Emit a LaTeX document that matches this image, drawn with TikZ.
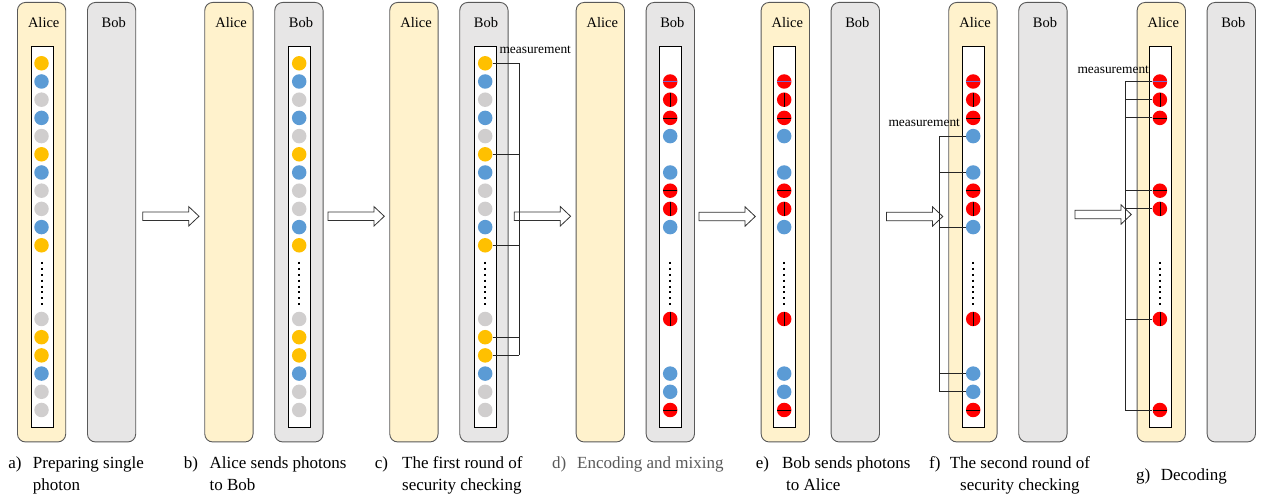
\documentclass[tikz,border=0pt]{standalone}
\usepackage{fontspec}
\setmainfont{Liberation Serif}
\definecolor{alicebg}{HTML}{FFF2CC}
\definecolor{bobbg}{HTML}{E7E6E6}
\definecolor{boxline}{HTML}{595959}
\definecolor{yel}{HTML}{FFC000}
\definecolor{blu}{HTML}{5B9BD5}
\definecolor{gry}{HTML}{D0CECE}
\definecolor{rd}{HTML}{FF0000}
\definecolor{faint}{HTML}{7A6AD0}
\definecolor{capgray}{HTML}{595959}
\tikzset{
  party/.style={draw=boxline, line width=0.9pt, rounded corners=8pt, minimum width=48.3pt, minimum height=439.5pt, inner sep=0pt, anchor=north west},
  alicebox/.style={party, fill=alicebg},
  bobbox/.style={party, fill=bobbg},
  lbl/.style={anchor=base, inner sep=0pt, font=\fontsize{14.5}{16}\selectfont},
  strip/.style={draw=black, fill=white, line width=0.8pt, minimum width=21.8pt, minimum height=381.5pt, inner sep=0pt, anchor=north west},
  ph/.style={circle, inner sep=0pt, minimum size=14.5pt},
  mk/.style={black, line width=0.6pt, shorten <=0.6pt, shorten >=0.6pt},
  faintmk/.style={faint, line width=0.5pt, shorten <=0.6pt, shorten >=0.6pt},
  dotline/.style={black, line width=2pt, dash pattern=on 2pt off 3.9pt},
  harr/.style={draw=black!80, fill=white, line width=0.8pt},
  br/.style={black!85, line width=0.8pt},
  meas/.style={anchor=west, inner sep=0pt, font=\fontsize{13.4}{15}\selectfont},
  captxt/.style={anchor=base west, inner sep=0pt, font=\fontsize{17}{20}\selectfont},
}
\newcommand\patA[2]{%
  \foreach \k/\y/\c in {0/63.3/yel,1/81.5/blu,2/99.7/gry,3/117.9/blu,4/136.1/gry,5/154.3/yel,6/172.5/blu,7/190.7/gry,8/208.9/gry,9/227.1/blu,10/245.3/yel,b0/319/gry,b1/337.2/yel,b2/355.4/yel,b3/373.6/blu,b4/391.8/gry,b5/410/gry}
    {\node[ph, fill=\c] (#1-\k) at (#2,\y) {};}
  \draw[dotline] (#2,262) -- (#2,305);
}
\newcommand\patR[2]{%
  \foreach \k/\y/\c in {1/81.5/rd,2/99.7/rd,3/117.9/rd,4/136.1/blu,6/172.5/blu,7/190.7/rd,8/208.9/rd,9/227.1/blu,b0/319/rd,b3/373.6/blu,b4/391.8/blu,b5/410/rd}
    {\node[ph, fill=\c] (#1-\k) at (#2,\y) {};}
  \draw[faintmk] (#1-1.west) -- (#1-1.east);
  \draw[mk] (#1-2.north) -- (#1-2.south);
  \draw[mk] (#1-3.west) -- (#1-3.east);
  \draw[mk] (#1-7.west) -- (#1-7.east);
  \draw[mk] (#1-8.north) -- (#1-8.south);
  \draw[mk] (#1-b0.north) -- (#1-b0.south);
  \draw[mk] (#1-b5.west) -- (#1-b5.east);
  \draw[dotline] (#2,262) -- (#2,305);
}
\newcommand\patG[2]{%
  \foreach \k/\y in {1/81.5,2/99.7,3/117.9,7/190.7,8/208.9,b0/319,b5/410}
    {\node[ph, fill=rd] (#1-\k) at (#2,\y) {};}
  \draw[faintmk] (#1-1.west) -- (#1-1.east);
  \draw[mk] (#1-2.north) -- (#1-2.south);
  \draw[mk] (#1-3.west) -- (#1-3.east);
  \draw[mk] (#1-7.west) -- (#1-7.east);
  \draw[mk] (#1-8.north) -- (#1-8.south);
  \draw[mk] (#1-b0.north) -- (#1-b0.south);
  \draw[mk] (#1-b5.west) -- (#1-b5.east);
  \draw[dotline] (#2,262) -- (#2,305);
}
\newcommand\harrow[2]{%
  \draw[harr] (#1,#2-4.2) -- (#1+46,#2-4.2) -- (#1+46,#2-9.7) -- (#1+56.3,#2) -- (#1+46,#2+9.7) -- (#1+46,#2+4.2) -- (#1,#2+4.2) -- cycle;
}
\begin{document}
\begin{tikzpicture}[x=1pt, y=-1pt]
\useasboundingbox (0,0) rectangle (1270,502);
% ---------- party boxes ----------
\foreach \p/\ax in {a/17, b/204.3, c/389.3, d/575.7, e/760.7, f/948.3, g/1136.7}{
  \node[alicebox] (\p-alice) at (\ax,2) {};
  \node[bobbox] (\p-bob) at (\ax+70,2) {};
  \node[lbl] (\p-alicelbl) at (\ax+26.7,27.7) {Alice};
  \node[lbl] (\p-boblbl) at (\ax+96.7,27.7) {Bob};
}
% ---------- strips ----------
\node[strip] (a-strip) at (30.7,46) {};
\node[strip] (b-strip) at (288.3,46) {};
\node[strip] (c-strip) at (474.3,46) {};
\node[strip] (d-strip) at (659.3,46) {};
\node[strip] (e-strip) at (773.3,46) {};
\node[strip] (f-strip) at (962.3,46) {};
\node[strip] (g-strip) at (1149,46) {};
% ---------- arrows ----------
\harrow{142.7}{216.3}
\harrow{328}{216.3}
\harrow{514.3}{216.3}
\harrow{699}{216.5}
\harrow{886.5}{216.5}
\harrow{1075}{214.5}
% ---------- photons ----------
\patA{pa}{41.5}
\patA{pb}{299.2}
\patA{pc}{485.2}
\patR{pd}{670.2}
\patR{pe}{784.2}
\patR{pf}{973.2}
\patG{pg}{1159.9}
% ---------- measurement brackets ----------
\coordinate (cbar) at (519,0);
\foreach \k in {0,5,10,b1,b2}{\draw[br] (pc-\k.east) -- (pc-\k.east -| cbar);}
\draw[br] (pc-0.east -| cbar) -- (pc-b2.east -| cbar);
\node[meas] (c-meas) at (499.3,49.3) {measurement};
\coordinate (fbar) at (939.3,0);
\foreach \k in {4,6,9,b3,b4}{\draw[br] (pf-\k.west) -- (pf-\k.west -| fbar);}
\draw[br] (pf-4.west -| fbar) -- (pf-b4.west -| fbar);
\node[meas] (f-meas) at (888.3,122.3) {measurement};
\coordinate (gbar) at (1125,0);
\foreach \k in {1,2,3,7,8,b0,b5}{\draw[br] (pg-\k.west) -- (pg-\k.west -| gbar);}
\draw[br] (pg-1.west -| gbar) -- (pg-b5.west -| gbar);
\node[meas] (g-meas) at (1077.3,69.3) {measurement};
% ---------- captions ----------
\node[captxt] (ca-l) at (8.2,469) {a)};
\node[captxt] (ca-1) at (32.7,469) {Preparing single};
\node[captxt] (ca-2) at (32.7,491) {photon};
\node[captxt] (cb-l) at (183.7,469) {b)};
\node[captxt] (cb-1) at (209.4,469) {Alice sends photons};
\node[captxt] (cb-2) at (209.4,491) {to Bob};
\node[captxt] (cc-l) at (374.7,469) {c)};
\node[captxt] (cc-1) at (402,469) {The first round of};
\node[captxt] (cc-2) at (402,491) {security checking};
\node[captxt, text=capgray] (cd-l) at (551.8,469) {d)};
\node[captxt, text=capgray] (cd-1) at (577,469) {Encoding and mixing};
\node[captxt] (ce-l) at (755.7,469) {e)};
\node[captxt] (ce-1) at (781.8,469) {Bob sends photons};
\node[captxt] (ce-2) at (786,491) {to Alice};
\node[captxt] (cf-l) at (929,469) {f)};
\node[captxt] (cf-1) at (949.6,469) {The second round of};
\node[captxt] (cf-2) at (960,491) {security checking};
\node[captxt] (cg-l) at (1136,481) {g)};
\node[captxt] (cg-1) at (1160.6,481) {Decoding};
\end{tikzpicture}
\end{document}
